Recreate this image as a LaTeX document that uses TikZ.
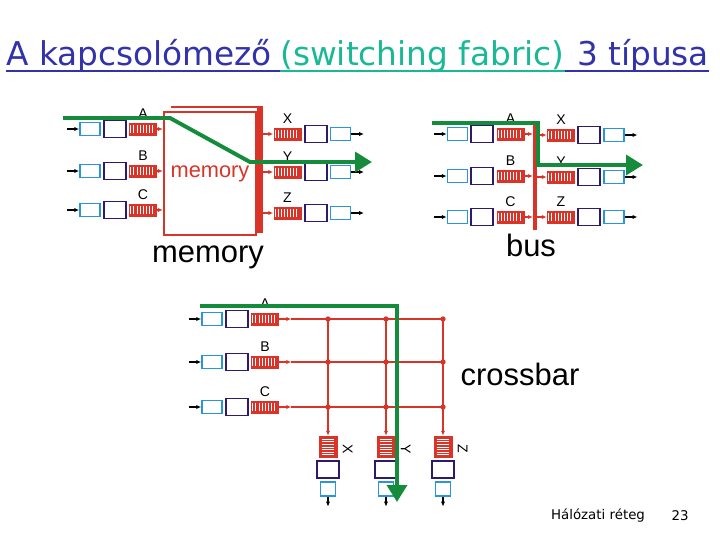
\documentclass[tikz,border=0pt]{standalone}
\usepackage{fontspec}
\setmainfont{Liberation Sans}
\newfontfamily\titlefont{DejaVu Sans}
\usetikzlibrary{arrows.meta,positioning}
\definecolor{fabred}{RGB}{218,52,40}
\definecolor{portblue}{RGB}{40,150,215}
\definecolor{portnavy}{RGB}{45,25,110}
\definecolor{flowgreen}{RGB}{20,140,60}
\definecolor{titleblue}{RGB}{50,50,170}
\definecolor{titleteal}{RGB}{25,185,150}

\begin{document}
\begin{tikzpicture}[x=0.025cm, y=-0.025cm, >=Latex, node distance=0.05cm,
  linebox/.style={draw=portblue, line width=1.1pt, fill=white, minimum width=0.5cm, minimum height=0.325cm, inner sep=0pt},
  procbox/.style={draw=portnavy, line width=1.4pt, fill=white, minimum width=0.55cm, minimum height=0.425cm, inner sep=0pt},
  hqueue/.style={fill=fabred, minimum width=0.7cm, minimum height=0.325cm, inner sep=0pt,
    path picture={\foreach \k in {-3.5,-2.5,...,3.5}
      \draw[white, line width=0.65pt] ([xshift=\k*2.2pt-1pt, yshift=-2.6pt]path picture bounding box.center) -- ([xshift=\k*2.2pt-1pt, yshift=2.6pt]path picture bounding box.center);}},
  vqueue/.style={fill=fabred, minimum width=0.475cm, minimum height=0.55cm, inner sep=0pt,
    path picture={\foreach \k in {-3,...,3}
      \draw[white, line width=0.65pt] ([yshift=\k*1.8pt, xshift=-4.5pt]path picture bounding box.center) -- ([yshift=\k*1.8pt, xshift=4.5pt]path picture bounding box.center);}},
  portlabel/.style={font=\fontsize{10}{10}\selectfont, inner sep=0pt},
  bigtext/.style={font=\fontsize{22}{22}\selectfont},
  titletext/.style={anchor=base west, inner sep=0pt, font=\titlefont\fontsize{23.3}{23.3}\selectfont},
  redarr/.style={->, fabred, line width=1.1pt, >={Latex[length=3.5pt,width=3pt]}},
  blackarr/.style={->, black, line width=0.9pt, >={Latex[length=3.5pt,width=3pt]}},
  flow/.style={->, flowgreen, line width=2.8pt, line join=miter, >={Triangle[length=12pt,width=14pt]}}]

  \useasboundingbox (0,0) rectangle (720,540);

  % title
  \node[titletext, text=titleblue] (t1) at (6,65) {A kapcsolómező};
  \node[titletext, text=titleteal] (t2) at ([xshift=5.5pt]t1.base east) {(switching fabric)};
  \node[titletext, text=titleblue] (t3) at ([xshift=8.5pt]t2.base east) {3 típusa};
  \draw[titleblue, line width=1.3pt] ([yshift=-4.5pt]t1.base west) -- ([yshift=-4.5pt]t2.base west);
  \draw[titleteal, line width=1.3pt] ([yshift=-4.5pt]t2.base west) -- ([yshift=-4.5pt]t2.base east);
  \draw[titleblue, line width=1.3pt] ([yshift=-4.5pt]t2.base east) -- ([yshift=-4.5pt]t3.base east);

  % memory
  \node[draw=fabred, line width=1.6pt, minimum width=2.3cm, minimum height=3.075cm, text=fabred, font=\fontsize{15.5}{15.5}\selectfont] (mem) at (210,173.5) {memory};
  \draw[fabred, line width=1.5pt] ([shift={(8,-4)}]mem.north west) -- ([shift={(4,-4)}]mem.north east);
  \fill[fabred] ([shift={(0,-4.5)}]mem.north east) rectangle ([shift={(6,-3)}]mem.south east);
  \coordinate (memback) at ([shift={(6,0)}]mem.east);
  \node[bigtext] (memname) at (208,257) {memory};

  \foreach \r/\yy in {A/129,B/171,C/210} {
    \node[linebox] (mb\r) at (90,\yy) {};
    \node[procbox, right=of mb\r] (mp\r) {};
    \node[hqueue, right=of mp\r] (mq\r) {};
    \node[portlabel, above=2.5pt of mq\r] (ml\r) {\r};
    \draw[blackarr] ([xshift=-9pt]mb\r.west) -- (mb\r.west);
    \draw[redarr] (mq\r.east) -- (mq\r.east -| mem.west);
  }
  \foreach \r/\yy in {X/134,Y/172,Z/213} {
    \node[hqueue] (mo\r) at (287.5,\yy) {};
    \node[procbox, right=of mo\r] (mop\r) {};
    \node[linebox, right=of mop\r] (mob\r) {};
    \node[portlabel, above=2.5pt of mo\r] (mol\r) {\r};
    \draw[redarr] (memback |- mo\r.west) -- (mo\r.west);
    \draw[blackarr] (mob\r.east) -- ++(9pt,0);
  }

  % bus
  \node[fill=fabred, minimum width=0.09cm, minimum height=2.675cm, inner sep=0pt] (bus) at (535,176.5) {};
  \node[bigtext] (busname) at (531,245) {bus};

  \foreach \r/\yy in {A/134,B/176,C/217} {
    \node[linebox] (bb\r) at (457.5,\yy) {};
    \node[procbox, right=of bb\r] (bp\r) {};
    \node[hqueue, right=of bp\r] (bq\r) {};
    \node[portlabel, above=2.5pt of bq\r] (bl\r) {\r};
    \draw[blackarr] ([xshift=-9pt]bb\r.west) -- (bb\r.west);
    \draw[redarr] (bq\r.east) -- (bq\r.east -| bus.west);
  }
  \foreach \r/\yy in {X/135,Y/177,Z/217} {
    \node[hqueue] (bo\r) at (561,\yy) {};
    \node[procbox, right=of bo\r] (bop\r) {};
    \node[linebox, right=of bop\r] (bob\r) {};
    \node[portlabel, above=2.5pt of bo\r] (bol\r) {\r};
    \draw[redarr] (bus.east |- bo\r.west) -- (bo\r.west);
    \draw[blackarr] (bob\r.east) -- ++(9pt,0);
  }

  % crossbar
  \node[bigtext] (xbarname) at (520,374) {crossbar};

  \foreach \c/\xx in {X/328,Y/386,Z/443} {
    \node[vqueue] (xo\c) at (\xx,447) {};
    \node[procbox, below=of xo\c] (xop\c) {};
    \node[linebox, minimum width=0.375cm, minimum height=0.35cm, below=of xop\c] (xob\c) {};
    \node[portlabel, rotate=-90] (xol\c) at ([shift={(10,2)}]xo\c.east) {\c};
    \draw[blackarr] (xob\c.south) -- ++(0,-7pt);
  }
  \foreach \r/\yy in {A/319,B/362,C/407} {
    \node[linebox] (xb\r) at (212,\yy) {};
    \node[procbox, right=of xb\r] (xp\r) {};
    \node[hqueue, right=of xp\r] (xq\r) {};
    \node[portlabel, above=2.5pt of xq\r] (xl\r) {\r};
    \draw[blackarr] ([xshift=-9pt]xb\r.west) -- (xb\r.west);
    \draw[redarr] (xq\r.east) -- ++(12,0) coordinate (xh\r);
    \draw[fabred, line width=1.3pt] (xh\r) -- (xh\r -| xoZ);
  }
  \foreach \c in {X,Y,Z} {
    \draw[redarr] (xo\c |- xhA) -- (xo\c.north);
    \foreach \r in {A,B,C}
      \fill[fabred] (xo\c |- xh\r) circle (1.9pt);
  }

  % flows
  \coordinate (mgin) at (63,118);
  \coordinate (mgbend) at (170,118);
  \coordinate (mgdown) at (250,162);
  \coordinate (mgout) at (372,162);
  \draw[flow] (mgin) -- (mgbend) -- (mgdown) -- (mgout);

  \coordinate (bgin) at (432,123);
  \coordinate (bgturn) at (538,123);
  \coordinate (bgdown) at (538,165);
  \coordinate (bgout) at (643,165);
  \draw[flow] (bgin) -- (bgturn) -- (bgdown) -- (bgout);

  \coordinate (xgin) at (200,306);
  \coordinate (xgturn) at (397,306);
  \coordinate (xgout) at (397,502);
  \draw[flow] (xgin) -- (xgturn) -- (xgout);

  % footer
  \node[font=\titlefont\fontsize{9.5}{9.5}\selectfont] (foot) at (598,516) {Hálózati réteg};
  \node[font=\titlefont\fontsize{9.5}{9.5}\selectfont] (page) at (680,516) {23};
\end{tikzpicture}
\end{document}
